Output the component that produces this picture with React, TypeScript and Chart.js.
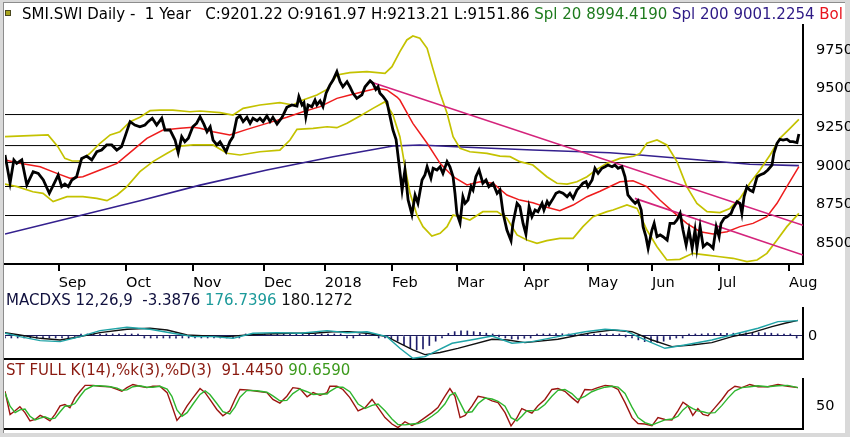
import React, { useEffect, useRef } from 'react';
import { Chart, registerables } from 'chart.js';

Chart.register(...registerables);

const FONT = '"DejaVu Sans", Verdana, sans-serif';
const X_MAX = 252;

// Month ticks (trading-day index)
const monthTickDays = [17, 38.2, 59.4, 81.8, 101, 122.2, 142.7, 163.9, 184.1, 204.3, 225.4, 247.6];
const monthLabels = ['Sep', 'Oct', 'Nov', 'Dec', '2018', 'Feb', 'Mar', 'Apr', 'May', 'Jun', 'Jul', 'Aug'];
const priceTicks = [8500, 8750, 9000, 9250, 9500, 9750];

// Close prices
const closeDays = [0, 1.6, 2.8, 3.7, 5.3, 6.9, 8.9, 10.5, 12.1, 14, 15.3, 16.8, 17.9, 18.9, 20, 21.1, 22.6, 24.2, 25.8, 27.4, 29, 30.5, 32.1, 33.7, 35.3, 36.8, 37.9, 39.5, 41, 42.6, 44.2, 45.2, 46.5, 47.9, 49.5, 50.5, 52.1, 53.7, 54.7, 55.8, 56.8, 57.9, 59.3, 60.5, 61.6, 62.8, 63.8, 64.8, 65.7, 66.9, 67.9, 69.8, 71, 72, 73.2, 74.2, 75.2, 76.4, 77.4, 78.3, 79.6, 80.5, 81.5, 82.7, 83.7, 84.6, 85.9, 87.5, 89, 90.6, 92.2, 92.8, 93.8, 94.4, 95, 95.7, 96.9, 97.9, 98.5, 99.5, 100.4, 101.4, 102.6, 103.6, 104.8, 105.8, 106.7, 108, 108.9, 109.9, 111.1, 112.7, 113.7, 115.3, 116.2, 117.1, 117.8, 118.4, 119.4, 120.6, 121.6, 122.5, 123.5, 124.4, 125.4, 126.3, 127.3, 128.5, 129.5, 130.4, 131.7, 132.6, 133.3, 134.5, 135.2, 136.4, 137.4, 138.3, 139.6, 140.5, 141.5, 142.1, 142.7, 143.7, 144.6, 145.3, 146.2, 147.2, 147.8, 148.7, 149.7, 150.9, 151.9, 152.8, 154.1, 155.4, 156.3, 157.3, 158.5, 159.8, 160.4, 161.7, 162.6, 163.6, 164.5, 165.5, 166.4, 167.4, 168.3, 169.6, 170.2, 171.2, 171.8, 173.1, 174, 175, 176.2, 177.5, 178.4, 179.4, 180.6, 181.6, 182.5, 183.5, 184.1, 185.4, 186.3, 187.3, 188.5, 189.5, 190.4, 191.7, 192.6, 193.6, 194.8, 195.8, 196.7, 198, 199, 199.9, 200.9, 201.5, 202.4, 203.1, 204.3, 205, 205.9, 206.9, 207.8, 209.1, 210, 211.3, 212.2, 213.2, 214.1, 215.1, 216, 217, 217.9, 218.5, 219.5, 220.5, 221.7, 222.6, 223.6, 224.6, 225.5, 226.1, 227.1, 228, 229.3, 229.9, 231.2, 232.1, 232.7, 233.4, 234.3, 235.2, 236.2, 237.5, 238.4, 239.7, 240.9, 242.2, 242.8, 243.8, 244.7, 245.7, 246.9, 247.9, 248.8, 250.1, 250.7];
const closeVals = [9070, 8889, 9038, 9016, 9038, 8876, 8962, 8951, 8908, 8822, 8876, 8940, 8865, 8882, 8865, 8908, 8929, 9048, 9063, 9038, 9091, 9102, 9135, 9135, 9102, 9124, 9189, 9286, 9264, 9253, 9264, 9286, 9308, 9264, 9308, 9232, 9232, 9167, 9085, 9189, 9156, 9178, 9253, 9275, 9318, 9270, 9221, 9253, 9167, 9135, 9156, 9091, 9156, 9189, 9308, 9323, 9286, 9314, 9275, 9308, 9292, 9308, 9286, 9323, 9286, 9314, 9271, 9314, 9379, 9394, 9387, 9448, 9394, 9409, 9318, 9394, 9383, 9426, 9394, 9420, 9383, 9470, 9523, 9556, 9610, 9545, 9512, 9545, 9512, 9470, 9437, 9459, 9512, 9551, 9534, 9495, 9512, 9470, 9448, 9415, 9318, 9232, 9170, 9016, 8843, 8973, 8778, 8685, 8810, 8757, 8908, 8940, 8994, 8919, 8984, 8973, 8994, 8951, 9027, 8994, 8929, 8822, 8692, 8631, 8800, 8757, 8778, 8865, 8843, 8929, 8973, 8887, 8908, 8865, 8887, 8822, 8843, 8692, 8584, 8515, 8627, 8757, 8735, 8627, 8558, 8735, 8670, 8714, 8703, 8757, 8714, 8768, 8746, 8789, 8822, 8832, 8822, 8800, 8822, 8789, 8843, 8865, 8887, 8897, 8865, 8908, 8984, 8951, 8984, 8994, 9005, 8994, 9005, 8984, 8994, 8929, 8811, 8778, 8757, 8774, 8714, 8606, 8541, 8466, 8584, 8627, 8541, 8552, 8541, 8519, 8627, 8627, 8649, 8692, 8584, 8487, 8584, 8466, 8584, 8466, 8606, 8476, 8498, 8487, 8466, 8606, 8541, 8627, 8660, 8670, 8692, 8724, 8768, 8757, 8692, 8800, 8865, 8843, 8832, 8929, 8940, 8951, 8973, 9005, 9081, 9146, 9172, 9167, 9172, 9156, 9156, 9150, 9206];

// Bollinger upper band
const upperDays = [0, 13.6, 16.7, 18.9, 21.2, 23.7, 26.8, 30, 33.2, 36.3, 39.5, 42.6, 45.8, 48.9, 53, 58.4, 61.6, 67.9, 72, 75.2, 80.5, 86.8, 90.9, 94.1, 98.5, 101.7, 104.8, 108.9, 114.3, 120, 122.2, 124.7, 126.9, 128.8, 131, 133.3, 135.1, 137.4, 139.6, 141.5, 143.7, 146.8, 152.2, 156.3, 159.5, 162.6, 166.7, 171.1, 174.3, 177.5, 180.6, 183.8, 186.9, 190.1, 194.2, 198.5, 200.5, 202.7, 205.9, 209, 212.2, 215.3, 218.5, 221.7, 225.8, 228.9, 232.1, 235.2, 238.4, 241.6, 244.7, 247.9, 250.7];
const upperVals = [9189, 9200, 9124, 9048, 9031, 9031, 9081, 9146, 9200, 9221, 9286, 9314, 9357, 9361, 9361, 9350, 9355, 9344, 9329, 9372, 9394, 9409, 9394, 9426, 9459, 9495, 9588, 9603, 9610, 9599, 9642, 9740, 9815, 9841, 9826, 9761, 9631, 9470, 9340, 9189, 9113, 9091, 9081, 9063, 9059, 9027, 9005, 8929, 8887, 8882, 8897, 8929, 8977, 9016, 9048, 9062, 9080, 9146, 9167, 9135, 9027, 8865, 8757, 8703, 8697, 8724, 8789, 8887, 8973, 9070, 9178, 9243, 9301];

// Bollinger lower band
const lowerDays = [0, 3.8, 8.8, 12, 15.2, 19.6, 24.6, 29, 32.2, 35.4, 38.5, 42.6, 46.7, 51.2, 55.3, 59.4, 65.7, 70.1, 74.2, 80.5, 86.8, 90, 92.2, 97.3, 101.7, 104.8, 108, 112.1, 116.2, 120, 122.5, 124.7, 126.3, 127.9, 130.1, 132, 134.8, 137.4, 139.6, 141.5, 143.7, 146.8, 150.9, 155.4, 158.5, 161.7, 164.8, 168, 171.1, 175.2, 179.4, 182.5, 185.7, 190.1, 192, 196.4, 199.6, 202.7, 205.9, 209, 213.1, 217.2, 221.7, 225.8, 229.9, 234.3, 237.5, 240.6, 243.8, 246.9, 250.7];
const lowerVals = [8882, 8865, 8832, 8822, 8768, 8800, 8800, 8789, 8774, 8811, 8865, 8962, 9027, 9081, 9128, 9135, 9135, 9081, 9070, 9091, 9102, 9167, 9236, 9243, 9253, 9247, 9275, 9323, 9372, 9415, 9330, 9189, 8994, 8822, 8681, 8606, 8545, 8563, 8606, 8681, 8670, 8649, 8703, 8703, 8660, 8552, 8519, 8498, 8515, 8530, 8530, 8606, 8670, 8703, 8714, 8746, 8724, 8584, 8476, 8390, 8394, 8433, 8422, 8411, 8401, 8379, 8390, 8433, 8519, 8606, 8692];

// Simple moving average 20
const sma20Days = [0, 4.7, 11.1, 16.4, 20.5, 24.6, 30, 35.4, 40.4, 44.8, 49.9, 55.3, 59.4, 61.6, 65.7, 71, 76.4, 82.7, 89, 94.1, 99.5, 104.8, 108.9, 113, 117.5, 120.6, 123.8, 124.7, 128.8, 133.3, 137.4, 141.5, 145.9, 150, 154.1, 158.5, 162.6, 166.7, 171.1, 175.2, 179.4, 183.8, 187.9, 194.2, 198.3, 202.7, 206.8, 210.9, 215.3, 219.5, 223.6, 228, 232.1, 236.2, 240.6, 243.8, 246.9, 250.7];
const sma20Vals = [9038, 9016, 8994, 8951, 8919, 8929, 8973, 9016, 9102, 9178, 9232, 9243, 9249, 9243, 9221, 9200, 9236, 9275, 9314, 9350, 9383, 9437, 9459, 9480, 9502, 9491, 9445, 9426, 9275, 9146, 9016, 8929, 8876, 8897, 8887, 8811, 8778, 8761, 8731, 8709, 8746, 8800, 8835, 8897, 8903, 8865, 8778, 8703, 8627, 8573, 8558, 8573, 8606, 8627, 8670, 8757, 8865, 8994];

// Simple moving average 200
const sma200Days = [0, 19.6, 42.6, 61.6, 82.7, 103.6, 122.5, 131, 145.9, 166.7, 191, 200.5, 219.5, 235.2, 250.7];
const sma200Vals = [8558, 8657, 8774, 8875, 8973, 9059, 9128, 9135, 9120, 9102, 9085, 9070, 9038, 9010, 9001];

// Trend lines and horizontal levels
const trend1Days = [115.3, 252];
const trend1Vals = [9545, 8615];
const trend2Days = [198.9, 252];
const trend2Vals = [8789, 8422];
const levelVals = [9332, 9131, 9021, 8866, 8678];

// MACD
const macdBlackDays = [0, 4.7, 11.1, 17.4, 23.7, 30, 38.5, 45.8, 51.2, 57.5, 63.8, 70.1, 76.4, 82.7, 90, 97.3, 103.6, 108.9, 114.3, 120.6, 124.7, 128.8, 132.6, 137.4, 143, 153.8, 158.8, 164.2, 174.6, 185.3, 191.7, 198, 204.3, 210.6, 216.9, 223.2, 229.6, 235.9, 242.2, 246.3, 250.4];
const macdBlackVals = [38, 12, -27, -46, -8, 38, 77, 89, 69, 12, 0, -8, 12, 23, 31, 31, 49, 49, 31, -8, -84, -161, -215, -190, -142, -38, -46, -77, -38, 38, 69, 49, -46, -123, -104, -77, -8, 38, 107, 146, 180];
const macdTealDays = [0, 4.7, 11.1, 17.4, 23.7, 30, 38.5, 45.8, 53, 59.4, 65.7, 72, 78.3, 85.9, 93.2, 101.7, 108, 114.3, 120.6, 124.7, 128.8, 132.6, 141.2, 148.4, 153.8, 160.1, 166.4, 174.6, 183.2, 189.5, 195.8, 202.1, 208.4, 214.7, 223.2, 231.5, 237.8, 244.1, 250.4];
const macdTealVals = [31, -8, -54, -65, -8, 61, 100, 77, 31, -8, -8, -27, 31, 38, 31, 61, 38, 49, -8, -142, -257, -238, -84, -38, 0, -84, -65, -8, 49, 77, 61, -46, -142, -104, -46, 31, 89, 165, 177];
const histDays = [0, 2, 4, 6, 8, 10, 12, 14, 16, 18, 20, 22, 24, 26, 28, 30, 32, 34, 36, 38, 40, 42, 44, 46, 48, 50, 52, 54, 56, 58, 60, 62, 64, 66, 68, 70, 72, 74, 76, 78, 80, 82, 84, 86, 88, 90, 92, 94, 96, 98, 100, 102, 104, 106, 108, 110, 112, 114, 116, 118, 120, 122, 124, 126, 128, 130, 132, 134, 136, 138, 140, 142, 144, 146, 148, 150, 152, 154, 156, 158, 160, 162, 164, 166, 168, 170, 172, 174, 176, 178, 180, 182, 184, 186, 188, 190, 192, 194, 196, 198, 200, 202, 204, 206, 208, 210, 212, 214, 216, 218, 220, 222, 224, 226, 228, 230, 232, 234, 236, 238, 240, 242, 244, 246, 248, 250];
const histVals = [-5, -10, -15, -20, -22, -25, -25, -22, -18, -14, -8, -2, 4, 10, 16, 20, 22, 22, 20, 16, 10, 4, -2, -8, -14, -20, -24, -25, -22, -16, -10, -8, -8, -12, -15, -16, -12, -4, 4, 10, 14, 15, 14, 12, 10, 6, 4, 6, 10, 14, 16, 14, 8, 2, -4, -2, 4, 6, 4, -2, -10, -30, -60, -100, -140, -160, -150, -110, -60, -10, 30, 50, 60, 58, 50, 42, 32, 18, 0, -20, -34, -38, -26, -10, 4, 16, 24, 28, 26, 20, 16, 12, 10, 8, 8, 10, 12, 10, 0, -20, -45, -65, -78, -75, -60, -40, -22, -8, 4, 14, 22, 28, 30, 30, 30, 32, 34, 36, 38, 38, 36, 32, 24, 14, 5, -3];

// Stochastic
const stochDays = [0, 1.6, 3.2, 4.7, 6.3, 7.9, 9.5, 11.1, 12.6, 14.2, 15.8, 17.4, 18.9, 20.5, 22.1, 23.7, 25.3, 27.8, 30, 33.2, 35.4, 36.9, 38.5, 40.4, 42.6, 44.8, 46.7, 48.9, 51.2, 52.7, 54.3, 55.9, 57.5, 59.4, 61.6, 63.2, 64.7, 66.9, 68.8, 71, 72.6, 74.2, 76.4, 79.6, 82.7, 84.6, 86.8, 89, 90.9, 93.1, 95.4, 97.3, 99.5, 101.7, 102.6, 104.8, 106.7, 108.9, 111.5, 113.7, 115.9, 117.8, 120, 122.2, 124.1, 126.3, 128.5, 130.4, 132.6, 134.8, 136.7, 138.9, 140.5, 142.1, 143.7, 145.3, 147.5, 149.4, 151.6, 153.8, 155.7, 157.9, 159.8, 161.7, 163.2, 164.8, 166.4, 168.3, 170.5, 172.7, 174.6, 176.8, 179, 180.9, 183.1, 185.3, 187.2, 189.5, 191.7, 193.6, 195.8, 198, 199.9, 202.1, 204.3, 206.2, 208.4, 210.6, 212.5, 214.1, 215.7, 217.2, 218.8, 220.4, 222, 224.2, 226.4, 228.3, 230.5, 232.7, 235.2, 237.8, 240.9, 244.1, 247.2, 250.4];
const stochKVals = [83, 32, 40, 49, 36, 18, 21, 30, 25, 18, 32, 51, 54, 47, 69, 83, 96, 96, 94, 93, 87, 83, 91, 98, 94, 91, 94, 94, 80, 51, 19, 32, 51, 69, 89, 80, 65, 43, 29, 40, 65, 87, 86, 83, 80, 65, 57, 72, 91, 89, 71, 80, 74, 80, 94, 94, 87, 69, 40, 47, 65, 47, 25, 11, 3, 16, 8, 14, 25, 36, 47, 72, 89, 72, 25, 30, 51, 72, 69, 62, 58, 36, 7, 25, 45, 40, 35, 51, 65, 87, 89, 83, 69, 58, 87, 86, 91, 96, 94, 87, 58, 25, 12, 11, 7, 25, 21, 20, 40, 59, 51, 30, 45, 32, 29, 47, 65, 83, 94, 91, 98, 93, 93, 98, 94, 91];
const stochDVals = [80, 50, 36, 42, 44, 28, 20, 24, 27, 22, 24, 38, 50, 51, 56, 72, 86, 95, 95, 93, 90, 85, 86, 93, 95, 92, 92, 94, 88, 72, 42, 28, 36, 55, 76, 84, 76, 56, 38, 33, 48, 70, 85, 84, 81, 73, 62, 63, 78, 88, 82, 76, 77, 77, 83, 92, 92, 82, 55, 45, 52, 55, 40, 22, 10, 9, 11, 12, 18, 28, 38, 55, 74, 80, 58, 36, 38, 56, 68, 66, 61, 50, 25, 18, 28, 40, 40, 42, 54, 72, 85, 87, 78, 65, 72, 82, 87, 92, 94, 92, 78, 48, 25, 14, 9, 14, 20, 22, 28, 42, 51, 45, 40, 38, 35, 36, 52, 68, 84, 91, 93, 95, 93, 95, 96, 91];

const xy = (xs: number[], ys: number[]) => xs.map((x, i) => ({ x, y: ys[i] }));

const lineDs = (xs: number[], ys: number[], color: string, width: number, order: number) => ({
  type: 'line' as const,
  data: xy(xs, ys),
  borderColor: color,
  backgroundColor: color,
  borderWidth: width,
  pointRadius: 0,
  tension: 0,
  fill: false,
  order,
});

const zeroPad = (s: any) => {
  s.paddingTop = 0;
  s.paddingBottom = 0;
  s.paddingLeft = 0;
  s.paddingRight = 0;
};

const baseX = (height: number, showTicks: boolean) => ({
  type: 'linear' as const,
  min: 0,
  max: X_MAX,
  position: 'bottom' as const,
  offset: false,
  afterBuildTicks: (s: any) => {
    s.ticks = showTicks ? monthTickDays.map((v) => ({ value: v })) : [];
  },
  afterFit: (s: any) => {
    s.height = height;
    zeroPad(s);
  },
  ticks: {
    display: showTicks,
    autoSkip: false,
    maxRotation: 0,
    minRotation: 0,
    align: 'start' as const,
    padding: 4,
    color: '#000',
    font: { family: FONT, size: 14.5 },
    callback: (_v: any, i: number) => monthLabels[i],
  },
  grid: {
    display: showTicks,
    drawOnChartArea: false,
    drawTicks: showTicks,
    tickLength: 7,
    color: '#000',
    lineWidth: 2,
    offset: false,
  },
  border: { display: true, color: '#000', width: 2 },
});

const baseY = (min: number, max: number, tickVals: number[], zeroGrid: boolean) => ({
  type: 'linear' as const,
  position: 'right' as const,
  min,
  max,
  afterBuildTicks: (s: any) => {
    s.ticks = tickVals.map((v) => ({ value: v }));
  },
  afterFit: (s: any) => {
    s.width = 47;
    zeroPad(s);
  },
  ticks: {
    padding: 5,
    color: '#000',
    font: { family: FONT, size: 14.5 },
    callback: (v: any) => String(v),
  },
  grid: zeroGrid
    ? { display: true, drawOnChartArea: true, drawTicks: false, color: '#1c1c5c', lineWidth: 1 }
    : { display: false },
  border: { display: true, color: '#000', width: 2 },
});

const common = {
  responsive: false,
  maintainAspectRatio: false,
  animation: false as const,
  events: [] as any[],
  plugins: { legend: { display: false }, tooltip: { enabled: false }, title: { display: false } },
};

function useChart(ref: React.RefObject<HTMLCanvasElement | null>, make: () => any) {
  useEffect(() => {
    if (!ref.current) return;
    const chart = new Chart(ref.current, make());
    return () => chart.destroy();
  }, []);
}

export default function App() {
  const mainRef = useRef<HTMLCanvasElement | null>(null);
  const macdRef = useRef<HTMLCanvasElement | null>(null);
  const stochRef = useRef<HTMLCanvasElement | null>(null);

  useChart(mainRef, () => ({
    type: 'line',
    data: {
      datasets: [
        lineDs(closeDays, closeVals, '#000000', 2.8, 0),
        lineDs(trend1Days, trend1Vals, '#d4247c', 1.6, 1),
        lineDs(trend2Days, trend2Vals, '#d4247c', 1.6, 1),
        lineDs(sma20Days, sma20Vals, '#ee1c1c', 1.5, 2),
        lineDs(upperDays, upperVals, '#c4c200', 1.7, 3),
        lineDs(lowerDays, lowerVals, '#c4c200', 1.7, 3),
        lineDs(sma200Days, sma200Vals, '#34208e', 1.6, 4),
        ...levelVals.map((v) => lineDs([0, X_MAX], [v, v], '#000000', 1, 5)),
      ],
    },
    options: {
      ...common,
      layout: { padding: { left: 5, top: 25, right: 0, bottom: 0 } },
      scales: {
        x: baseX(28, true),
        y: baseY(8364, 9912, priceTicks, false),
      },
    },
  }));

  useChart(macdRef, () => ({
    type: 'bar',
    data: {
      datasets: [
        lineDs(macdTealDays, macdTealVals, '#1fa3a6', 1.4, 0),
        lineDs(macdBlackDays, macdBlackVals, '#111111', 1.4, 1),
        {
          type: 'bar' as const,
          data: xy(histDays, histVals),
          backgroundColor: '#1c1c6a',
          borderWidth: 0,
          barThickness: 1,
          minBarLength: 2,
          grouped: false,
          order: 2,
        },
      ],
    },
    options: {
      ...common,
      layout: { padding: { left: 5, top: 8, right: 0, bottom: 0 } },
      scales: {
        x: baseX(3, false),
        y: baseY(-265, 322, [0], true),
      },
    },
  }));

  useChart(stochRef, () => ({
    type: 'line',
    data: {
      datasets: [
        lineDs(stochDays, stochDVals, '#2eb52e', 1.4, 0),
        lineDs(stochDays, stochKVals, '#9c1410', 1.4, 1),
      ],
    },
    options: {
      ...common,
      layout: { padding: { left: 5, top: 9, right: 0, bottom: 0 } },
      scales: {
        x: baseX(2, false),
        y: baseY(0, 110, [50], false),
      },
    },
  }));

  const txt: React.CSSProperties = {
    position: 'absolute',
    fontFamily: FONT,
    fontSize: 15,
    lineHeight: '17px',
    whiteSpace: 'pre',
    overflow: 'hidden',
  };

  return (
    <div style={{ position: 'fixed', left: 0, top: 0, width: 850, height: 437, background: '#d9d9d9', overflow: 'hidden' }}>
      <div
        style={{
          position: 'absolute',
          left: 3,
          top: 2,
          width: 841,
          height: 430,
          background: '#ffffff',
          borderLeft: '1px solid #8c8c8c',
          borderTop: '1px solid #8c8c8c',
        }}
      />
      <canvas ref={mainRef} width={850} height={292} style={{ position: 'absolute', left: 0, top: 0, width: 850, height: 292 }} />
      <canvas ref={macdRef} width={850} height={62} style={{ position: 'absolute', left: 0, top: 300, width: 850, height: 62 }} />
      <canvas ref={stochRef} width={850} height={61} style={{ position: 'absolute', left: 0, top: 370, width: 850, height: 61 }} />
      <div style={{ position: 'absolute', left: 5, top: 10, width: 4, height: 4, background: '#a8a41c', border: '1px solid #4a4820' }} />
      <div style={{ ...txt, left: 22, top: 6, width: 823, color: '#000' }}>
        <span>{'SMI.SWI Daily -  1 Year   C:9201.22 O:9161.97 H:9213.21 L:9151.86 '}</span>
        <span style={{ color: '#1e7b1e' }}>{'Spl 20 8994.4190 '}</span>
        <span style={{ color: '#2e1a86' }}>{'Spl 200 9001.2254 '}</span>
        <span style={{ color: '#e8141e' }}>{'Bol'}</span>
      </div>
      <div style={{ ...txt, left: 6, top: 292 }}>
        <span style={{ color: '#10103e' }}>{'MACDXS 12,26,9  -3.3876 '}</span>
        <span style={{ color: '#1c9a9a' }}>{'176.7396 '}</span>
        <span style={{ color: '#111' }}>{'180.1272'}</span>
      </div>
      <div style={{ ...txt, left: 6, top: 362 }}>
        <span style={{ color: '#8a1a10' }}>{'ST FULL K(14),%k(3),%D(3)  91.4450 '}</span>
        <span style={{ color: '#3c9a1c' }}>{'90.6590'}</span>
      </div>
    </div>
  );
}
